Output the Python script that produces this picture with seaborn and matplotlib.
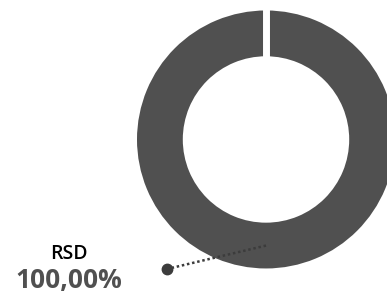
import matplotlib
matplotlib.use("Agg")
import matplotlib.pyplot as plt
import seaborn as sns
import numpy as np

# Dados do gráfico
categorias = ["RSD"]
valores = [100.0]
rotulos_pct = ["100,00%"]

sns.set_theme(style="white")
plt.rcParams['font.family'] = ['Open Sans', 'DejaVu Sans']

cor = "#505050"

fig = plt.figure(figsize=(3.87, 2.93), dpi=100)
ax = fig.add_axes([0, 0, 1, 1])

# Rosca (donut)
largura = 0.355
ax.pie(valores, radius=1, startangle=90, counterclock=False,
       colors=[cor] * len(valores),
       wedgeprops=dict(width=largura, edgecolor="white", linewidth=0))

# Separador branco no início da fatia
ax.plot([0, 0], [1 - largura - 0.05, 1.05], color="white", lw=5, solid_capstyle="butt")

# Linha guia + rótulo
total = sum(valores)
inicio = 90
for cat, val, pct in zip(categorias, valores, rotulos_pct):
    meio = inicio - 360 * (val / total) / 2
    r_meio = 1 - largura / 2
    x0, y0 = r_meio * np.cos(np.radians(meio)), r_meio * np.sin(np.radians(meio))
    x1, y1 = -0.767, -1.004
    ax.plot([x0, x1], [y0, y1], color="#3c3c3c", lw=1.8, ls=(0, (1, 1.1)))
    ax.plot([x1], [y1], marker="o", markersize=7.5, color="#3c3c3c")
    ax.text(-1.527, -0.885, cat, ha="center", va="center", fontsize=14,
            fontweight="semibold", color="black")
    ax.text(-1.527, -1.092, pct, ha="center", va="center", fontsize=19,
            fontweight="bold", color=cor)
    inicio -= 360 * val / total

ax.set_xlim(-2.062, 0.938)
ax.set_ylim(-1.190, 1.081)
ax.set_aspect("equal")
ax.axis("off")

fig.savefig("out.png", dpi=100)
